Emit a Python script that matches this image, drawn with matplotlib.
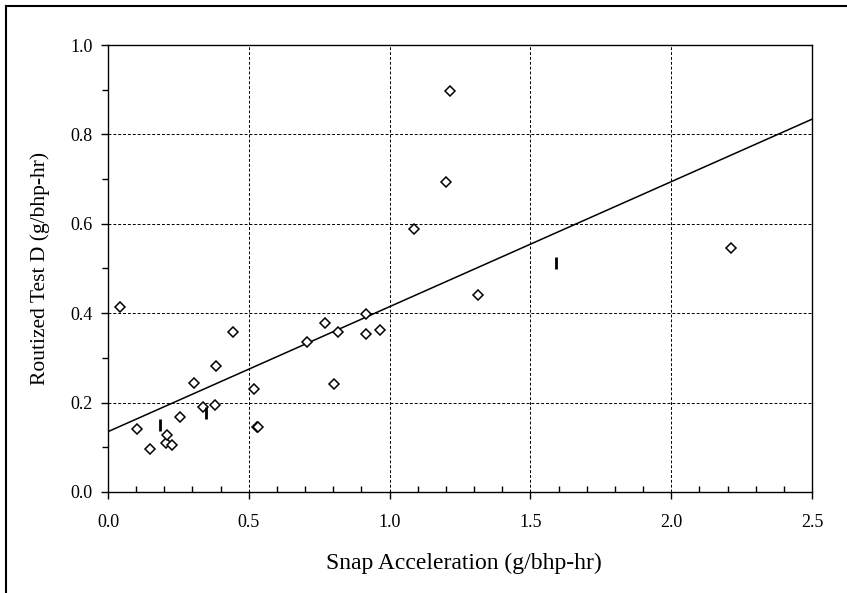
import matplotlib
matplotlib.use("Agg")
import matplotlib.pyplot as plt
from matplotlib.ticker import MultipleLocator, FormatStrFormatter
from matplotlib.lines import Line2D

# Engine-out diesel particulate: snap acceleration vs. routized Test D
snap_accel = [0.043, 0.104, 0.150, 0.205, 0.211, 0.228, 0.255, 0.307, 0.339,
              0.381, 0.385, 0.444, 0.518, 0.528, 0.534, 0.708, 0.771, 0.801,
              0.817, 0.916, 0.916, 0.967, 1.086, 1.199, 1.215, 1.313, 2.213]
test_d = [0.413, 0.140, 0.096, 0.109, 0.128, 0.106, 0.167, 0.243, 0.191,
          0.194, 0.281, 0.358, 0.231, 0.145, 0.146, 0.336, 0.378, 0.242,
          0.357, 0.398, 0.353, 0.363, 0.588, 0.694, 0.898, 0.440, 0.545]

# Vehicles plotted with a bar marker
bar_snap = [0.186, 0.348, 1.590]
bar_test_d = [0.150, 0.177, 0.512]

# Least-squares trend line end points
fit_x = [0.0, 2.5]
fit_y = [0.135, 0.834]

x_ticks = [0.0, 0.5, 1.0, 1.5, 2.0, 2.5]
y_ticks = [0.0, 0.2, 0.4, 0.6, 0.8, 1.0]

plt.rcParams["font.family"] = ["Liberation Serif", "DejaVu Serif"]

fig = plt.figure(figsize=(8.47, 5.93), dpi=100)
ax = fig.add_axes([108 / 847, 101 / 593, 704 / 847, 447 / 593])

ax.set_xlim(0, 2.5)
ax.set_ylim(0, 1.0)

ax.plot(fit_x, fit_y, color="black", lw=1.1, zorder=3)
ax.plot(snap_accel, test_d, linestyle="none", marker="D", markersize=5.2,
        markerfacecolor="white", markeredgecolor="black",
        markeredgewidth=1.1, zorder=4)
ax.plot(bar_snap, bar_test_d, linestyle="none", marker="|", markersize=9,
        markeredgecolor="black", markeredgewidth=2.0, zorder=4)

ax.set_xticks(x_ticks)
ax.set_yticks(y_ticks)
ax.xaxis.set_minor_locator(MultipleLocator(0.1))
ax.yaxis.set_minor_locator(MultipleLocator(0.1))
ax.xaxis.set_major_formatter(FormatStrFormatter("%.1f"))
ax.yaxis.set_major_formatter(FormatStrFormatter("%.1f"))

ax.tick_params(axis="x", which="major", direction="out", length=5, width=1,
               labelsize=13, pad=11)
ax.tick_params(axis="x", which="minor", direction="in", length=4, width=1)
ax.tick_params(axis="y", which="major", direction="out", length=5, width=1,
               labelsize=13, pad=6)
ax.tick_params(axis="y", which="minor", direction="out", length=4, width=1)

ax.grid(True, which="major", color="black", linestyle=(0, (3, 2)),
        linewidth=0.7)
for s in ax.spines.values():
    s.set_linewidth(1.0)
    s.set_zorder(5)

ax.set_xlabel("Snap Acceleration (g/bhp-hr)", fontsize=17)
ax.set_ylabel("Routized Test D (g/bhp-hr)", fontsize=15.5)
ax.xaxis.set_label_coords(0.505, -0.135)
ax.yaxis.set_label_coords(-0.082, 0.5)

# Outer frame (left and top edges)
fig.add_artist(Line2D([6 / 847, 6 / 847], [0, 1 - 6 / 593],
                      transform=fig.transFigure, color="black", lw=1.5))
fig.add_artist(Line2D([6 / 847, 1.0], [1 - 6 / 593, 1 - 6 / 593],
                      transform=fig.transFigure, color="black", lw=1.5))

fig.savefig("out.png", dpi=100, facecolor="white")
